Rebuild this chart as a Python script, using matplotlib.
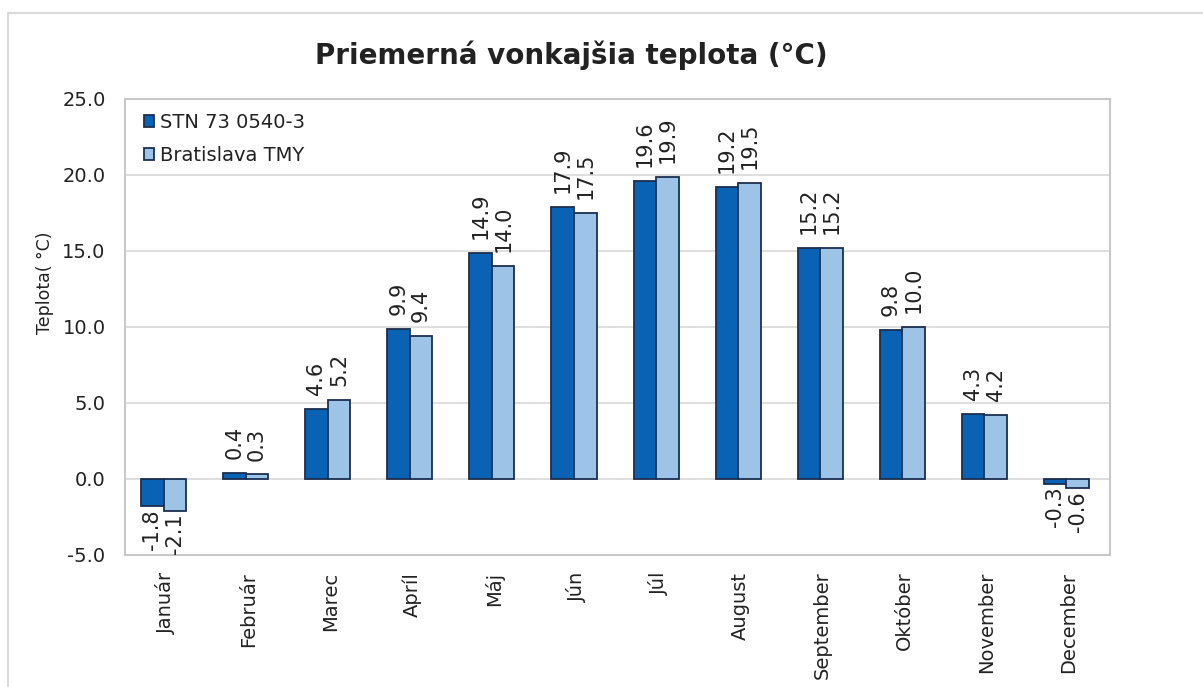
import numpy as np
import matplotlib
matplotlib.use('Agg')
import matplotlib.pyplot as plt
from matplotlib.patches import Rectangle

# data
months = ['Január', 'Február', 'Marec', 'Apríl', 'Máj', 'Jún', 'Júl',
          'August', 'September', 'Október', 'November', 'December']
stn = [-1.8, 0.4, 4.6, 9.9, 14.9, 17.9, 19.6, 19.2, 15.2, 9.8, 4.3, -0.3]
tmy = [-2.1, 0.3, 5.2, 9.4, 14.0, 17.5, 19.9, 19.5, 15.2, 10.0, 4.2, -0.6]
series_names = ['STN 73 0540-3', 'Bratislava TMY']
y_ticks = [-5.0, 0.0, 5.0, 10.0, 15.0, 20.0, 25.0]

plt.rcParams['font.family'] = ['DejaVu Sans']

W, H = 1203, 687
fig = plt.figure(figsize=(W / 100, H / 100), dpi=100)
fig.patch.set_facecolor('white')

# outer chart-area frame
fig.patches.append(Rectangle((8 / W, -0.05), 1.2, 1 - 13 / H + 0.05,
                             transform=fig.transFigure, fill=False,
                             edgecolor='#d9d9d9', linewidth=1.5))

ax = fig.add_axes([125 / W, 1 - 555 / H, (1110 - 125) / W, (555 - 99) / H])

x = np.arange(len(months)) - 0.03
bw = 0.275
dark = '#0a62b5'
light = '#9dc3e6'
edge = '#1b2f4f'

b1 = ax.bar(x - bw / 2, stn, bw, color=dark, edgecolor=edge, linewidth=1.3,
            label=series_names[0], zorder=3)
b2 = ax.bar(x + bw / 2, tmy, bw, color=light, edgecolor=edge, linewidth=1.3,
            label=series_names[1], zorder=3)

for bars, vals in ((b1, stn), (b2, tmy)):
    for rect, v in zip(bars, vals):
        cx = rect.get_x() + rect.get_width() / 2
        if v >= 0:
            ax.annotate(f'{v:.1f}', (cx, v), xytext=(0, 10), textcoords='offset points',
                        rotation=90, ha='center', va='bottom', fontsize=15,
                        color='#222222')
        else:
            ax.annotate(f'{v:.1f}', (cx, v), xytext=(0, -2), textcoords='offset points',
                        rotation=90, ha='center', va='top', fontsize=15,
                        color='#222222')

ax.set_xlim(-0.5, len(months) - 0.5)
ax.set_ylim(-5, 25)
ax.set_yticks(y_ticks)
ax.set_yticklabels([f'{t:.1f}' for t in y_ticks], fontsize=14, color='#222222')
ax.set_xticks(np.arange(len(months)))
ax.set_xticklabels(months, rotation=90, fontsize=14, color='#222222')
ax.tick_params(axis='both', length=0)
ax.tick_params(axis='x', pad=12)
ax.tick_params(axis='y', pad=14)

ax.grid(axis='y', color='#d9d9d9', linewidth=1.2, zorder=0)
ax.set_axisbelow(True)
for s in ax.spines.values():
    s.set_color('#c8c8c8')
    s.set_linewidth(1.5)

leg = ax.legend(loc='upper left', frameon=False, fontsize=14, handlelength=0.55,
                handleheight=0.55, handletextpad=0.3, labelspacing=0.75,
                borderaxespad=0.3, bbox_to_anchor=(0.005, 1.0))
for t in leg.get_texts():
    t.set_color('#222222')

fig.text(571 / W, 1 - 55 / H, 'Priemerná vonkajšia teplota (°C)', ha='center',
         va='center', fontsize=20, fontweight='bold', color='#222222')
fig.text(45 / W, 1 - 283 / H, 'Teplota( °C)', ha='center', va='center',
         rotation=90, fontsize=12.5, color='#222222')

fig.savefig('out.png', dpi=100, facecolor='white')
